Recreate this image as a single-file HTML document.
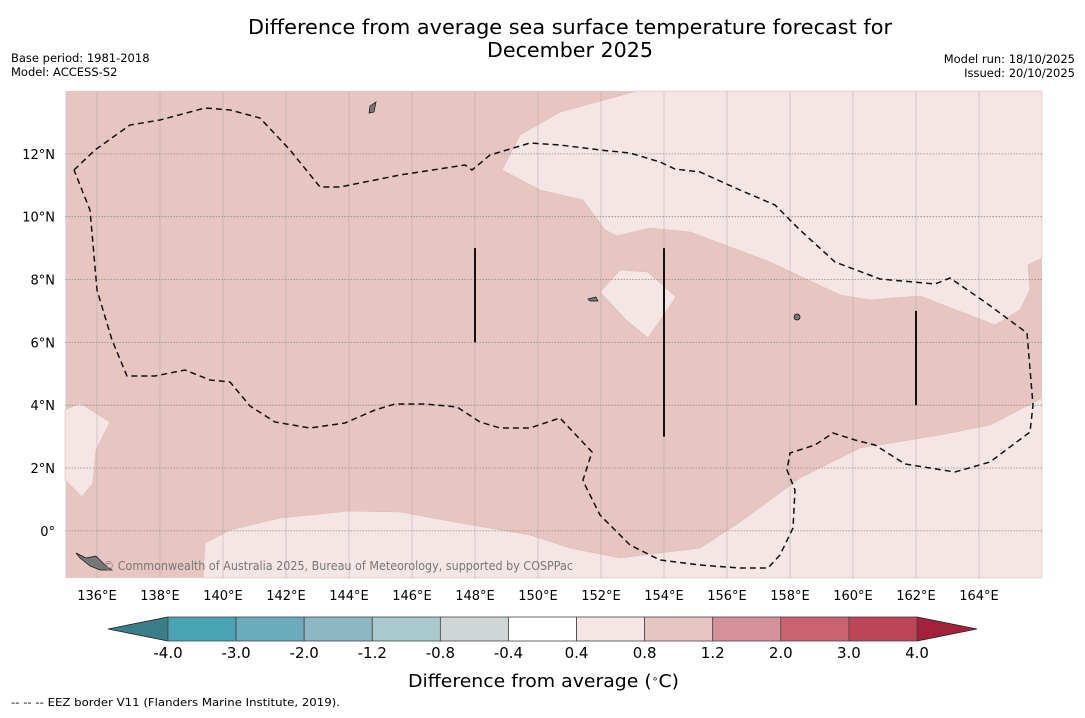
<!DOCTYPE html>
<html><head><meta charset="utf-8"><style>
body{margin:0;background:#fff;width:1085px;height:713px;overflow:hidden;font-family:"Liberation Sans","DejaVu Sans",sans-serif}
svg text{font-family:"DejaVu Sans","Liberation Sans",sans-serif}
</style></head><body>
<svg id="c" width="1085" height="713">
<text x="570" y="34" font-size="20" text-anchor="middle" textLength="644" lengthAdjust="spacingAndGlyphs">Difference from average sea surface temperature forecast for</text>
<text x="570" y="57" font-size="20" text-anchor="middle" textLength="166" lengthAdjust="spacingAndGlyphs">December 2025</text>
<text x="11" y="62" font-size="11.5">Base period: 1981-2018</text>
<text x="11" y="76" font-size="11.5">Model: ACCESS-S2</text>
<text x="1075" y="63" font-size="11.5" text-anchor="end">Model run: 18/10/2025</text>
<text x="1075" y="77" font-size="11.5" text-anchor="end">Issued: 20/10/2025</text>
<g id="map"></g>
<g id="cbar"></g>
<text x="408" y="687" font-size="17.5" textLength="271" lengthAdjust="spacingAndGlyphs">Difference from average (<tspan baseline-shift="super" font-size="10">∘</tspan>C)</text>
<text x="11" y="706" font-size="11" textLength="329" lengthAdjust="spacingAndGlyphs">--  --  -- EEZ border V11 (Flanders Marine Institute, 2019).</text>
</svg>
<script>
const NS="http://www.w3.org/2000/svg";
const lonTicks=[136,138,140,142,144,146,148,150,152,154,156,158,160,162,164];
const latTicks=[0,2,4,6,8,10,12];
const cbBounds=["-4.0","-3.0","-2.0","-1.2","-0.8","-0.4","0.4","0.8","1.2","2.0","3.0","4.0"];
const cbColors=["#4aa3b3","#6aacbb","#8bb8c4","#a9c9cd","#cfd6d5","#ffffff","#f4e6e4","#e7c6c1","#d4919a","#c8636f","#bc4656"];
const X0=65.5,X1=1042,Y0=91,Y1=578,LON0=135,LON1=166,LAT0=-1.5,LAT1=14;
const xs=l=>X0+(l-LON0)/(LON1-LON0)*(X1-X0);
const ys=l=>Y1-(l-LAT0)/(LAT1-LAT0)*(Y1-Y0);
function mk(t,a,p){const e=document.createElementNS(NS,t);for(const k in a)e.setAttribute(k,a[k]);p.appendChild(e);return e;}
const map=document.getElementById('map');
// traced contour outlines (screen trace)
const warmLight=[
[[637,91],[560,112],[520,135],[502,170],[540,190],[583,200],[605,230],[617,236],[650,228],[690,232],[770,262],[840,295],[870,300],[920,296],[995,325],[1020,310],[1030,290],[1028,265],[1042,258],[1042,91]],
[[620,270],[648,272],[676,297],[648,338],[626,320],[600,292]],
[[65,410],[80,403],[110,422],[96,450],[93,483],[82,497],[65,480]],
[[203,578],[205,543],[230,530],[280,518],[350,511],[400,512],[460,523],[530,535],[570,548],[620,558],[700,548],[740,522],[800,478],[860,448],[940,435],[990,425],[1042,398],[1042,578]]];
const eez=[[74,170],[95,150],[130,125],[160,120],[205,108],[230,110],[260,118],[290,150],[320,187],[340,187],[400,175],[465,165],[472,170],[490,155],[530,143],[560,145],[600,150],[630,153],[660,162],[675,169],[700,172],[740,190],[775,205],[800,230],[835,262],[880,279],[935,284],[950,278],[985,302],[1027,333],[1033,405],[1030,432],[990,462],[955,472],[905,464],[875,445],[855,440],[833,433],[815,445],[790,453],[787,470],[795,490],[793,528],[780,555],[768,568],[740,568],[700,565],[660,560],[630,545],[600,515],[585,485],[583,480],[592,452],[560,418],[530,428],[500,428],[480,422],[457,407],[425,404],[395,404],[375,410],[345,423],[310,428],[275,422],[250,406],[230,382],[210,380],[185,370],[155,376],[127,376],[112,340],[97,290],[90,210],[74,170]];
const segLon=[148,154,162], segLat1=[6,3,4], segLat2=[9,9,7];
let r=mk('rect',{x:X0,y:Y0,width:X1-X0,height:Y1-Y0,fill:'#e7c6c1'},map);

warmLight.forEach((p,i)=>{const e=mk('polygon',{points:p.join(' '),fill:'#f4e6e4',stroke:'#dcbab4','stroke-width':0.6},map);
});
lonTicks.forEach(l=>{const x=xs(l);
const g=mk('line',{x1:x,x2:x,y1:Y0,y2:Y1,stroke:'#a0a0a0','stroke-width':0.7,opacity:0.6},map);

const t=mk('text',{x:x,y:600,'font-size':13,'text-anchor':'middle'},map);t.textContent=l+'°E';
});
latTicks.forEach(l=>{const y=ys(l);
const g=mk('line',{x1:X0,x2:X1,y1:y,y2:y,stroke:'#888','stroke-width':0.8,'stroke-dasharray':'1.5 1.5'},map);

const t=mk('text',{x:55,y:y+5,'font-size':13,'text-anchor':'end'},map);t.textContent=l===0?'0°':l+'°N';
});
const ez=mk('polyline',{points:eez.join(' '),fill:'none',stroke:'#111','stroke-width':1.5,'stroke-dasharray':'6 4'},map);

segLon.forEach((l,i)=>{const s=mk('line',{x1:xs(l),x2:xs(l),y1:ys(segLat1[i]),y2:ys(segLat2[i]),stroke:'#111','stroke-width':2},map);
});
const isl=mk('path',{d:'M76,553 L86,558 L96,556 L106,566 L112,570 L100,570 L90,566 L80,558 Z M370,106 L376,102 L374,112 L369,113 Z M797,314 a3,3 0 1 0 0.1,0 Z M588,299 L596,297 L598,301 L590,301 Z',fill:'#777',stroke:'#111','stroke-width':0.7},map);

const cr=mk('text',{x:103,y:570,'font-size':12,fill:'#777',textLength:470,lengthAdjust:'spacingAndGlyphs'},map);cr.textContent='© Commonwealth of Australia 2025, Bureau of Meteorology, supported by COSPPac';

const cb=document.getElementById('cbar');
const CX0=168,CX1=917,CY=617,CH=24,w=(CX1-CX0)/cbColors.length;
let e=mk('polygon',{points:`108,${CY+CH/2} ${CX0},${CY} ${CX0},${CY+CH}`,fill:'#3a7f88',stroke:'#222','stroke-width':0.8},cb);

e=mk('polygon',{points:`977,${CY+CH/2} ${CX1},${CY} ${CX1},${CY+CH}`,fill:'#a3213a',stroke:'#222','stroke-width':0.8},cb);

cbColors.forEach((c,i)=>{const b=mk('rect',{x:CX0+i*w,y:CY,width:w,height:CH,fill:c,stroke:'#444','stroke-width':0.8},cb);
});
cbBounds.forEach((v,i)=>{const t=mk('text',{x:CX0+i*w,y:658,'font-size':15,'text-anchor':'middle'},cb);t.textContent=v;
});
</script>
</body></html>
